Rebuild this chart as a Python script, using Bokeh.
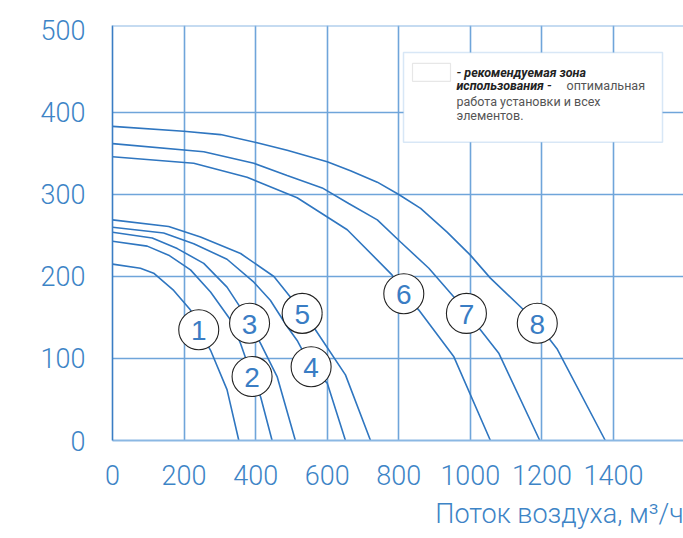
from bokeh.plotting import figure
from bokeh.models import Range1d, FixedTicker, Span, BoxAnnotation, Label, ColumnDataSource, Title
from bokeh.core.properties import value
from bokeh.embed import file_html
from bokeh.resources import INLINE

# ---- data ----
x1 = [0, 78, 115, 171, 218, 241, 274, 320, 353]
y1 = [215, 210, 204, 183, 159, 135, 110, 62, 0]
x2 = [0, 97, 157, 218, 274, 330, 358, 390, 414, 446]
y2 = [243, 237, 226, 208, 181, 147, 118, 78, 53, 0]
x3 = [0, 111, 181, 255, 320, 353, 383, 414, 460, 511]
y3 = [254, 247, 234, 216, 187, 165, 143, 118, 78, 0]
x4 = [0, 143, 227, 320, 395, 441, 488, 516, 555, 600, 651]
y4 = [260, 253, 240, 221, 193, 171, 139, 122, 90, 70, 0]
x5 = [0, 157, 246, 358, 451, 497, 530, 567, 651, 721]
y5 = [269, 261, 248, 228, 200, 175, 155, 135, 80, 0]
x6 = [0, 227, 376, 516, 656, 781, 814, 856, 954, 1056]
y6 = [346, 338, 321, 296, 257, 202, 179, 159, 102, 0]
x7 = [0, 255, 395, 488, 586, 660, 740, 805, 884, 954, 989, 1028, 1080, 1194]
y7 = [362, 352, 338, 323, 308, 289, 269, 242, 210, 175, 155, 135, 106, 0]
x8 = [0, 199, 302, 404, 488, 600, 665, 740, 800, 861, 935, 1000, 1056, 1145, 1187, 1242, 1377]
y8 = [383, 377, 373, 363, 354, 340, 329, 315, 300, 283, 254, 226, 198, 161, 143, 112, 0]

curves_x = [x1, x2, x3, x4, x5, x6, x7, x8]
curves_y = [y1, y2, y3, y4, y5, y6, y7, y8]

label_x = [241, 390, 383, 555, 530, 814, 989, 1187]
label_y = [135, 78, 143, 90, 155, 179, 155, 143]
label_text = ["1", "2", "3", "4", "5", "6", "7", "8"]

x_ticks = [0, 200, 400, 600, 800, 1000, 1200, 1400]
y_ticks = [0, 100, 200, 300, 400, 500]
x_title = "Поток воздуха, м³/ч"

legend_bold_1 = "- рекомендуемая зона"
legend_bold_2 = "использования -"
legend_reg_1 = "оптимальная"
legend_reg_2 = "работа установки и всех"
legend_reg_3 = "элементов."

# ---- styling ----
BLUE = "#3d84c6"
CURVE = "#2f76c0"
GRID = "#6fa5da"
FONT = "Roboto Light"

W, H = 683, 538
LEFT, TOP, BOTTOM = 112, 25, 97
X_END = (W - LEFT) * 1400 / 501.0
Y_END = 506

p = figure(width=W, height=H, output_backend="svg", toolbar_location=None,
           x_range=Range1d(0, X_END), y_range=Range1d(0, Y_END),
           min_border_left=LEFT, min_border_right=0, min_border_top=TOP, min_border_bottom=BOTTOM)
p.outline_line_color = None
p.background_fill_color = "white"
p.border_fill_color = "white"

p.xgrid.ticker = FixedTicker(ticks=x_ticks)
p.ygrid.ticker = FixedTicker(ticks=[t for t in y_ticks if 0 < t < 500])
for g in (p.xgrid, p.ygrid):
    g.grid_line_color = GRID
    g.grid_line_width = 1.6

p.add_layout(Span(location=Y_END, dimension="width", line_color="#8bb8e3", line_width=2))

p.xaxis.ticker = FixedTicker(ticks=x_ticks)
p.yaxis.ticker = FixedTicker(ticks=y_ticks)
for ax in (p.xaxis, p.yaxis):
    ax.major_tick_line_color = None
    ax.minor_tick_line_color = None
    ax.major_label_text_font = FONT
    ax.major_label_text_font_size = "27px"
    ax.major_label_text_color = BLUE
p.xaxis.axis_line_color = "#8bb8e3"
p.xaxis.axis_line_width = 2
p.yaxis.axis_line_color = "#3a7dc4"
p.yaxis.axis_line_width = 1.6
p.xaxis.major_label_standoff = 18
p.yaxis.major_label_standoff = 21

for xs, ys in zip(curves_x, curves_y):
    p.line(xs, ys, line_color=CURVE, line_width=1.6)

src = ColumnDataSource(dict(x=label_x, y=label_y, t=label_text))
p.scatter("x", "y", source=src, marker="circle", size=40, fill_color="white",
          line_color="#222222", line_width=1.1)
p.text("x", "y", text="t", source=src, text_font=value("Liberation Sans"),
       text_font_size="28px", text_color="#3a7dc4", text_align="center", text_baseline="middle",
       y_offset=1)

# ---- legend box (positions in data units of the chart) ----
def dx(px):
    return (px - 112) * 1400 / 501.0

def dy(py):
    return (441 - py) * Y_END / 416.0

p.add_layout(BoxAnnotation(left=dx(403), right=dx(662), top=dy(52), bottom=dy(142),
                           fill_color="white", fill_alpha=1, line_color="#7fb0e0", line_width=1.5))
p.add_layout(BoxAnnotation(left=dx(412), right=dx(450), top=dy(63), bottom=dy(81),
                           fill_color="white", fill_alpha=1, line_color="#b0b0b0", line_width=1.2))

def lab(txt, px, py, style, color):
    p.add_layout(Label(x=dx(px), y=dy(py), text=txt, text_font="Roboto", text_font_size="12.5px",
                       text_font_style=style, text_color=color, text_baseline="middle"))

lab(legend_bold_1, 456, 72, "bold italic", "#222222")
lab(legend_bold_2, 456, 85, "bold italic", "#222222")
lab(legend_reg_1, 566, 85, "normal", "#555555")
lab(legend_reg_2, 456, 101, "normal", "#555555")
lab(legend_reg_3, 456, 115, "normal", "#555555")

# axis title
p.add_layout(Title(text=x_title, align="right", text_font=FONT, text_font_size="27px",
                   text_font_style="normal", text_color=BLUE, standoff=17, offset=0), "below")

open("out.html", "w").write(file_html(p, INLINE))
